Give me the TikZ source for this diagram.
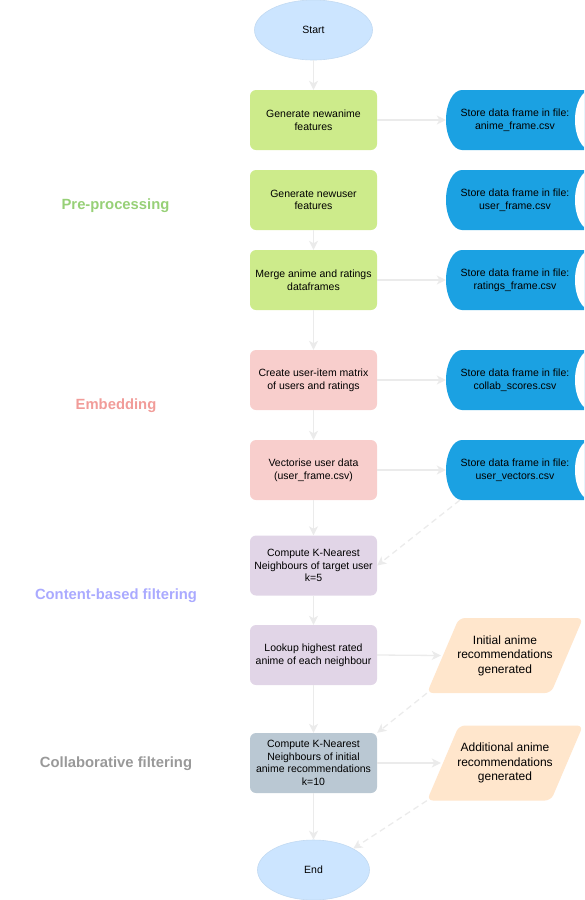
\documentclass[tikz,border=0pt]{standalone}
\usepackage{fontspec}
\setmainfont{Liberation Sans}
\usetikzlibrary{shapes.geometric,arrows.meta}
\definecolor{cgreen}{HTML}{CDEB8B}
\definecolor{cpink}{HTML}{F8CECC}
\definecolor{cpurple}{HTML}{E1D5E7}
\definecolor{cgrayb}{HTML}{BAC8D3}
\definecolor{cstart}{HTML}{CCE5FF}
\definecolor{cstartb}{HTML}{C2DAF2}
\definecolor{cblue}{HTML}{1BA1E2}
\definecolor{cpara}{HTML}{FFE6CC}
\definecolor{cedge}{HTML}{EBEBEB}
\definecolor{phgreen}{HTML}{97D077}
\definecolor{phpink}{HTML}{F19C99}
\definecolor{phpurple}{HTML}{AAAAFF}
\definecolor{phgray}{HTML}{999999}
\newcommand\bxfont{\fontsize{10.5}{12.7}\selectfont}
\newcommand\pafont{\fontsize{12}{14.5}\selectfont}
\newcommand\phfont{\fontsize{14.8}{17}\selectfont\bfseries}
\tikzset{
  procbox/.style={rectangle, rounded corners=6pt, minimum width=127pt, minimum height=60pt, inner sep=0pt, align=center, font=\bxfont},
  termnode/.style={ellipse, fill=cstart, draw=cstartb, line width=0.6pt, minimum height=60pt, inner sep=0pt, font=\bxfont},
  storenode/.style={rectangle, fill=white, minimum width=138pt, minimum height=60pt, inner sep=0pt, align=center, font=\bxfont,
    path picture={
      \fill[cblue] ([xshift=16pt]path picture bounding box.south west)
        arc[start angle=270, end angle=90, x radius=16pt, y radius=30pt]
        -- ([xshift=30pt]path picture bounding box.north east)
        -- ([xshift=30pt]path picture bounding box.south east) -- cycle;
      \fill[white] ([xshift=7pt]path picture bounding box.east) ellipse[x radius=16pt, y radius=30pt];
    }},
  paranode/.style={rectangle, fill=white, minimum width=156pt, minimum height=75pt, inner sep=0pt, align=center, font=\pafont,
    path picture={
      \fill[cpara, rounded corners=6pt] ([xshift=32pt]path picture bounding box.north west)
        -- (path picture bounding box.north east)
        -- ([xshift=-32pt]path picture bounding box.south east)
        -- (path picture bounding box.south west) -- cycle;
    }},
  phase/.style={font=\phfont},
  flow/.style={draw=cedge, line width=1.3pt, -{Stealth[length=9pt, width=9pt, inset=2.5pt]}},
  dflow/.style={flow, dash pattern=on 6pt off 4pt}
}
\begin{document}
\begin{tikzpicture}[x=1pt, y=-1pt]
\useasboundingbox (0,0) rectangle (585,900);
\clip (0,0) rectangle (585,900);

% terminals
\node[termnode, minimum width=118pt] (st) at (313.5,30) {Start};
\node[termnode, minimum width=112pt] (en) at (313.5,870) {End};

% process boxes
\node[procbox, fill=cgreen] (b1) at (313.5,120) {Generate newanime\\features};
\node[procbox, fill=cgreen] (b2) at (313.5,200) {Generate newuser\\features};
\node[procbox, fill=cgreen] (b3) at (313.5,280) {Merge anime and ratings\\dataframes};
\node[procbox, fill=cpink] (b4) at (313.5,380) {Create user-item matrix\\of users and ratings};
\node[procbox, fill=cpink] (b5) at (313.5,470) {Vectorise user data\\(user\_frame.csv)};
\node[procbox, fill=cpurple] (b6) at (313.5,565.5) {Compute K-Nearest\\Neighbours of target user\\k=5};
\node[procbox, fill=cpurple] (b7) at (313.5,655) {Lookup highest rated\\anime of each neighbour};
\node[procbox, fill=cgrayb] (b8) at (313.5,763) {Compute K-Nearest\\Neighbours of initial\\anime recommendations\\k=10};

% storage
\node[storenode] (c1) at (515,120) {Store data frame in file:\\anime\_frame.csv};
\node[storenode] (c2) at (515,200) {Store data frame in file:\\user\_frame.csv};
\node[storenode] (c3) at (515,280) {Store data frame in file:\\ratings\_frame.csv};
\node[storenode] (c4) at (515,380) {Store data frame in file:\\collab\_scores.csv};
\node[storenode] (c5) at (515,470) {Store data frame in file:\\user\_vectors.csv};

% outputs
\node[paranode] (p1) at (505,655.5) {Initial anime\\recommendations\\generated};
\node[paranode] (p2) at (505,763) {Additional anime\\recommendations\\generated};

% phase labels
\node[phase, text=phgreen] (ph1) at (115.5,206) {Pre-processing};
\node[phase, text=phpink] (ph2) at (116,406) {Embedding};
\node[phase, text=phpurple] (ph3) at (116,596) {Content-based filtering};
\node[phase, text=phgray] (ph4) at (116,764) {Collaborative filtering};

% vertical flow
\draw[flow] (st) -- (b1);
\draw[flow] (b2) -- (b3);
\draw[flow] (b3) -- (b4);
\draw[flow] (b4) -- (b5);
\draw[flow] (b5) -- (b6);
\draw[flow] (b6) -- (b7);
\draw[flow] (b7) -- (b8);
\draw[flow] (b8) -- (en);

% horizontal flow
\draw[flow] (b1) -- (c1);
\draw[flow] (b3) -- (c3);
\draw[flow] (b4) -- (c4);
\draw[flow] (b5) -- (c5);
\draw[flow] (b7.east) -- ([xshift=14pt]p1.west);
\draw[flow] (b8.east) -- ([xshift=14pt]p2.west);

% dashed flow
\draw[dflow] ([xshift=14pt]c5.south west) -- (b6.east);
\draw[dflow] (p1.south west) -- (b8.north east);
\draw[dflow] (p2.south west) -- (en.north east);
\end{tikzpicture}
\end{document}
